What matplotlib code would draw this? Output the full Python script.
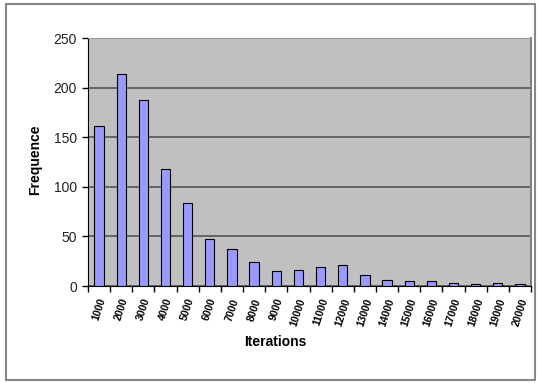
import matplotlib.pyplot as plt
from matplotlib.patches import Rectangle
import numpy as np

plt.rcParams['font.family'] = ['Liberation Sans', 'DejaVu Sans']

iterations = ["1000", "2000", "3000", "4000", "5000", "6000", "7000", "8000", "9000", "10000",
              "11000", "12000", "13000", "14000", "15000", "16000", "17000", "18000", "19000", "20000"]
frequence = [161, 214, 187, 118, 84, 47, 37, 24, 15, 16,
             19, 21.5, 11, 6.5, 5.5, 5.5, 3.5, 2, 3.5, 2]
yticks = [0, 50, 100, 150, 200, 250]

fig = plt.figure(figsize=(5.38, 3.83), dpi=100)
fig.patch.set_facecolor("white")
# outer chart frame
fig.add_artist(Rectangle((6 / 538, 3 / 383), 529 / 538, 376 / 383, transform=fig.transFigure,
                         fill=False, edgecolor="#888888", linewidth=1.5))

ax = fig.add_axes([88 / 538, 1 - 286 / 383, 443 / 538, 248 / 383])
ax.set_facecolor("#c0c0c0")

x = np.arange(len(iterations))
ax.bar(x, frequence, width=0.42, color="#9999ff", edgecolor="black", linewidth=0.8, zorder=3)

ax.set_xlim(-0.5, len(iterations) - 0.5)
ax.set_ylim(0, 250)
ax.set_yticks(yticks)
ax.yaxis.grid(True, color="#555555", linewidth=1.2, zorder=1)
ax.tick_params(axis="y", direction="out", length=4, width=1, labelsize=10, pad=4,
               colors="black", labelcolor="#222222")

# category ticks sit between the bars, labels under each bar
ax.set_xticks(x)
ax.set_xticklabels(iterations, rotation=72, ha="center", va="top", fontsize=7.5, fontweight="bold")
ax.tick_params(axis="x", which="major", length=0, pad=8)
ax.set_xticks(np.arange(-0.5, len(iterations)), minor=True)
ax.tick_params(axis="x", which="minor", direction="out", length=4, width=1)

ax.spines["left"].set_color("black")
ax.spines["bottom"].set_color("black")
ax.spines["top"].set_color("#999999")
ax.spines["right"].set_color("#808080")
ax.spines["right"].set_linewidth(1.5)

fig.text(275 / 538, 1 - 342 / 383, "Iterations", ha="center", va="center", fontsize=10, fontweight="bold")
fig.text(35 / 538, 1 - 160 / 383, "Frequence", ha="center", va="center", rotation=90,
         fontsize=10, fontweight="bold")

fig.savefig("out.png", dpi=100)
